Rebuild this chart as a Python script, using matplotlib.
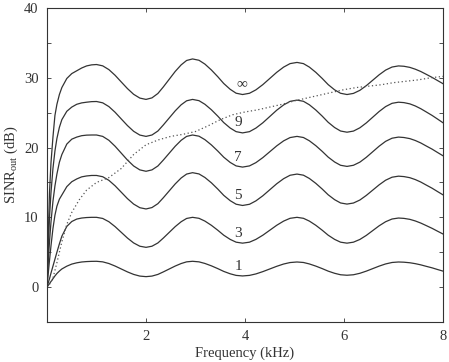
import matplotlib
matplotlib.use("Agg")
import matplotlib.pyplot as plt

plt.rcParams['font.family'] = ['Liberation Serif', 'DejaVu Serif']
plt.rcParams['mathtext.fontset'] = 'custom'
plt.rcParams['mathtext.rm'] = 'Liberation Serif'

# frequency grid (kHz) for the solid curves
freq = [0, 0.02, 0.05, 0.08, 0.12, 0.16, 0.2, 0.25, 0.3, 0.4, 0.5, 0.6, 0.7, 0.8, 0.9, 1.0,
        1.125, 1.25, 1.375, 1.5, 1.625, 1.75, 1.875, 2.0,
        2.12, 2.24, 2.35, 2.47, 2.59, 2.71, 2.82, 2.94,
        3.07, 3.19, 3.32, 3.45, 3.57, 3.70, 3.82, 3.95,
        4.09, 4.22, 4.36, 4.50, 4.64, 4.78, 4.91, 5.05,
        5.18, 5.30, 5.43, 5.56, 5.68, 5.81, 5.93, 6.06,
        6.19, 6.32, 6.45, 6.58, 6.71, 6.84, 6.97, 7.10,
        7.21, 7.33, 7.44, 7.55, 7.66, 7.78, 7.89, 8.0]

# SINR_out (dB) for each number of microphones
sinr_inf = [0, 6, 13.5, 17.8, 21.5, 24.6, 26.2, 27.6, 28.6, 29.9, 30.6, 31.0, 31.4, 31.7, 31.85, 31.9,
            31.71, 31.17, 30.36, 29.4, 28.45, 27.63, 27.09, 26.9,
            27.12, 27.75, 28.69, 29.8, 30.91, 31.85, 32.48, 32.7,
            32.51, 31.96, 31.12, 30.15, 29.18, 28.35, 27.79, 27.6,
            27.78, 28.27, 29.02, 29.9, 30.78, 31.53, 32.03, 32.2,
            32.03, 31.53, 30.78, 29.9, 29.02, 28.27, 27.78, 27.6,
            27.76, 28.2, 28.87, 29.65, 30.43, 31.1, 31.54, 31.7,
            31.65, 31.49, 31.23, 30.9, 30.5, 30.05, 29.6, 29.15]
sinr_9 = [0, 4.5, 10, 13.5, 17, 19.5, 21.3, 22.9, 24.0, 25.2, 25.8, 26.2, 26.4, 26.5, 26.58, 26.6,
          26.41, 25.87, 25.06, 24.1, 23.15, 22.33, 21.79, 21.6,
          21.8, 22.37, 23.24, 24.25, 25.26, 26.13, 26.7, 26.9,
          26.72, 26.2, 25.42, 24.5, 23.58, 22.8, 22.28, 22.1,
          22.28, 22.79, 23.55, 24.45, 25.35, 26.11, 26.62, 26.8,
          26.63, 26.13, 25.38, 24.5, 23.62, 22.87, 22.37, 22.2,
          22.36, 22.83, 23.53, 24.35, 25.17, 25.87, 26.34, 26.5,
          26.44, 26.26, 25.96, 25.57, 25.11, 24.6, 24.08, 23.55]
sinr_7 = [0, 3, 6.5, 9.3, 12.3, 14.5, 16.2, 17.9, 19.0, 20.5, 21.2, 21.5, 21.7, 21.78, 21.8, 21.8,
          21.6, 21.04, 20.19, 19.2, 18.21, 17.36, 16.8, 16.6,
          16.8, 17.36, 18.21, 19.2, 20.19, 21.04, 21.6, 21.8,
          21.63, 21.13, 20.38, 19.5, 18.62, 17.87, 17.37, 17.2,
          17.37, 17.84, 18.56, 19.4, 20.24, 20.96, 21.43, 21.6,
          21.44, 20.97, 20.27, 19.45, 18.63, 17.93, 17.46, 17.3,
          17.46, 17.91, 18.6, 19.4, 20.2, 20.89, 21.34, 21.5,
          21.44, 21.28, 21.01, 20.66, 20.23, 19.77, 19.29, 18.82]
sinr_5 = [0, 1.6, 3.8, 5.9, 8.4, 10.3, 11.6, 12.6, 13.2, 14.4, 15.1, 15.5, 15.8, 15.93, 16.0, 16.0,
          15.82, 15.3, 14.52, 13.6, 12.68, 11.9, 11.38, 11.2,
          11.4, 11.96, 12.81, 13.8, 14.79, 15.64, 16.2, 16.4,
          16.22, 15.71, 14.95, 14.05, 13.15, 12.39, 11.88, 11.7,
          11.87, 12.36, 13.09, 13.95, 14.81, 15.54, 16.03, 16.2,
          16.04, 15.57, 14.87, 14.05, 13.23, 12.53, 12.06, 11.9,
          12.05, 12.48, 13.14, 13.9, 14.66, 15.32, 15.75, 15.9,
          15.84, 15.68, 15.41, 15.06, 14.63, 14.17, 13.69, 13.22]
sinr_3 = [0, 0.5, 1.2, 2.0, 3.0, 4.0, 5.0, 6.2, 7.3, 8.7, 9.4, 9.75, 9.9, 9.97, 10.0, 10.0,
          9.84, 9.37, 8.67, 7.85, 7.03, 6.33, 5.86, 5.7,
          5.86, 6.33, 7.03, 7.85, 8.67, 9.37, 9.84, 10.0,
          9.86, 9.46, 8.86, 8.15, 7.44, 6.84, 6.44, 6.3,
          6.44, 6.84, 7.44, 8.15, 8.86, 9.46, 9.86, 10.0,
          9.86, 9.46, 8.86, 8.15, 7.44, 6.84, 6.44, 6.3,
          6.44, 6.83, 7.41, 8.1, 8.79, 9.37, 9.76, 9.9,
          9.85, 9.71, 9.48, 9.18, 8.82, 8.42, 8.01, 7.61]
sinr_1 = [0, 0.2, 0.5, 0.8, 1.2, 1.6, 1.95, 2.3, 2.6, 3.0, 3.3, 3.48, 3.6, 3.66, 3.69, 3.7,
          3.62, 3.38, 3.02, 2.6, 2.18, 1.82, 1.58, 1.5,
          1.58, 1.82, 2.18, 2.6, 3.02, 3.38, 3.62, 3.7,
          3.62, 3.39, 3.05, 2.65, 2.25, 1.91, 1.68, 1.6,
          1.68, 1.89, 2.22, 2.6, 2.98, 3.31, 3.52, 3.6,
          3.53, 3.32, 3.01, 2.65, 2.29, 1.98, 1.77, 1.7,
          1.77, 1.98, 2.29, 2.65, 3.01, 3.32, 3.53, 3.6,
          3.57, 3.49, 3.36, 3.19, 2.98, 2.76, 2.52, 2.29]

# dotted reference curve
freq_dotted = [0, 0.03, 0.07, 0.12, 0.2, 0.3, 0.4, 0.5, 0.65, 0.8, 1.0,
               1.25, 1.5, 1.75, 2.0, 2.25, 2.5, 2.75, 3.0, 3.25, 3.5, 3.75, 4.0,
               4.25, 4.5, 4.75, 5.0, 5.25, 5.5, 5.75, 6.0, 6.25, 6.5, 6.75, 7.0,
               7.25, 7.5, 7.75, 8.0]
sinr_dotted = [0, 0.2, 0.6, 1.3, 3.5, 6.5, 9.0, 10.7, 12.5, 13.9, 15.0,
               15.7, 17.0, 19.0, 20.4, 21.1, 21.6, 21.9, 22.3, 23.1, 24.0, 24.7, 25.1,
               25.4, 25.8, 26.2, 26.7, 27.1, 27.5, 27.9, 28.3, 28.6, 28.8, 29.0, 29.3,
               29.5, 29.7, 30.0, 30.2]

curves = [sinr_1, sinr_3, sinr_5, sinr_7, sinr_9, sinr_inf]
curve_labels = ['1', '3', '5', '7', '9', '\u221e']
label_x = [3.86, 3.86, 3.86, 3.86, 3.86, 3.94]
label_y = [3.0, 7.7, 13.2, 18.6, 23.6, 29.1]

yticks = [-5, 0, 5, 10, 15, 20, 25, 30, 35, 40]
ytick_labels = ['', '0', '', '10', '', '20', '', '30', '', '40']
xticks = [2, 4, 6, 8]
xtick_labels = ['2', '4', '6', '8']

fig = plt.figure(figsize=(4.49, 3.62), dpi=100)
ax = fig.add_axes([0.1047, 0.1105, 0.882, 0.8674])

for c in curves:
    ax.plot(freq, c, color='#333333', lw=0.9)
ax.plot(freq_dotted, sinr_dotted, color='#555555', lw=0.9, linestyle=(0, (1, 2)))

for t, x, y in zip(curve_labels, label_x, label_y):
    ax.text(x, y, t, ha='center', va='center', fontsize=11, color='#333333')

ax.set_xlim(0, 8)
ax.set_ylim(-5, 40)
ax.set_xticks(xticks)
ax.set_xticklabels(xtick_labels)
ax.set_yticks(yticks)
ax.set_yticklabels(ytick_labels)
ax.tick_params(direction='in', top=True, right=True, length=3, width=0.6,
               labelsize=10.5, colors='#333333', pad=6)
for s in ax.spines.values():
    s.set_linewidth(0.8)
    s.set_color('#333333')

ax.set_xlabel('Frequency (kHz)', fontsize=10.5, color='#333333', labelpad=2)
ax.set_ylabel(r'SINR$_{\mathrm{out}}$ (dB)', fontsize=10.5, color='#333333', labelpad=3)

fig.savefig('out.png', dpi=100)
